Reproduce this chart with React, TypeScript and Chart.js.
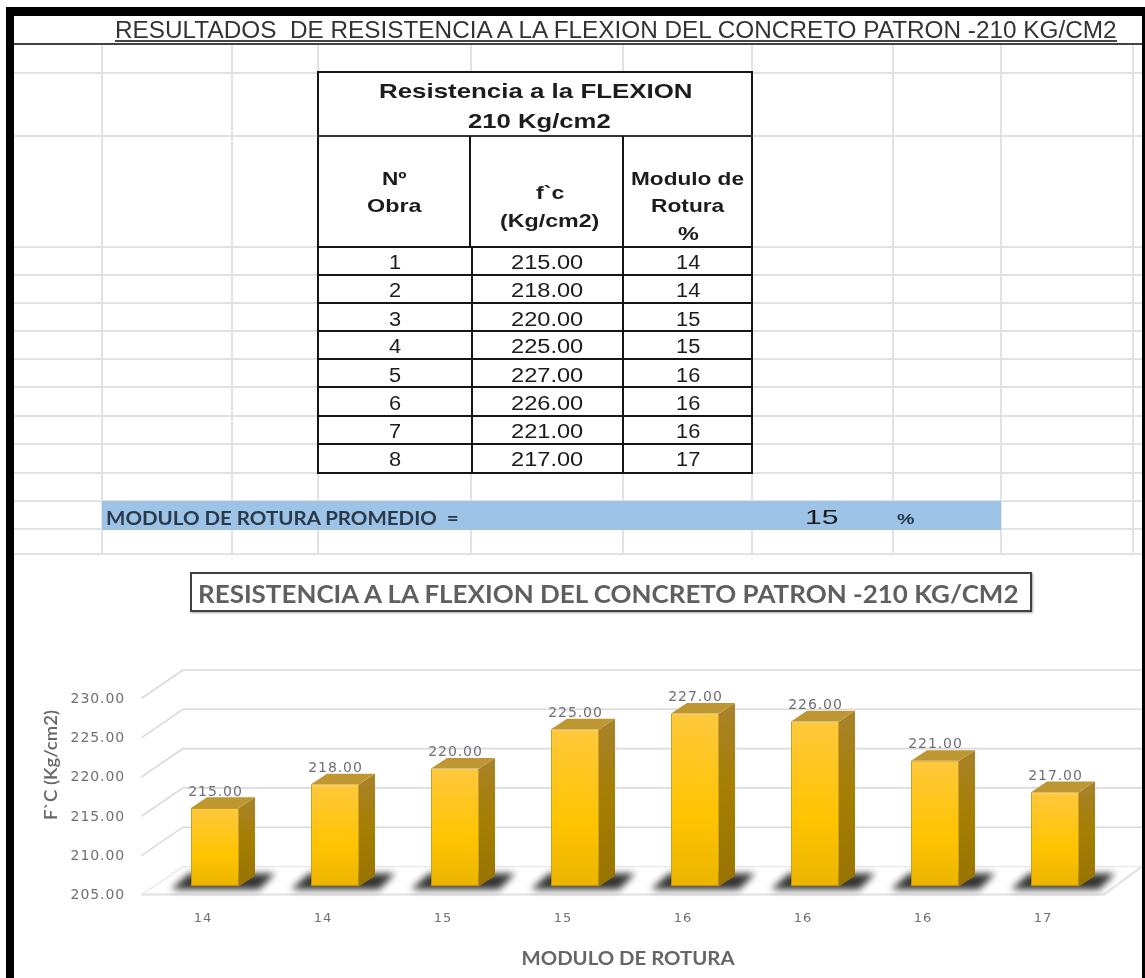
import React, { useEffect, useLayoutEffect, useRef } from "react";
import { Chart, registerables } from "chart.js";

Chart.register(...registerables);

const obraNumbers = [1, 2, 3, 4, 5, 6, 7, 8];
const fcValues = [215, 218, 220, 225, 227, 226, 221, 217];
const moduloValues = [14, 14, 15, 15, 16, 16, 16, 17];
const moduloPromedio = 15;
const yMin = 205;
const yMax = 230;
const yStep = 5;

const sheetTitle = "RESULTADOS  DE RESISTENCIA A LA FLEXION DEL CONCRETO PATRON -210 KG/CM2";
const chartTitle = "RESISTENCIA A LA FLEXION DEL CONCRETO PATRON -210 KG/CM2";
const xAxisTitle = "MODULO DE ROTURA";
const yAxisTitle = "F`C (Kg/cm2)";

const rowLines = [247, 275, 303, 331, 359, 387, 416, 444, 473];
const rowCenters = [262, 290, 319, 346, 375, 403, 431, 459];
const gridH = [73, 136, 247, 275, 303, 331, 359, 387, 416, 444, 473, 501, 529, 554];
const gridV = [102, 232, 318, 471, 623, 752, 893, 1001, 1133];

const ARIAL = '"Liberation Sans", Arial, sans-serif';
const LATO = "Lato, sans-serif";

function T(p: { text: string; y: number; w: number; x?: number; cx?: number; size: number; bold?: boolean; weight?: number; color?: string; font?: string }) {
  const ref = useRef<HTMLSpanElement>(null);
  useLayoutEffect(() => {
    const el = ref.current;
    if (!el) return;
    const k = p.w / el.offsetWidth;
    el.style.transform = `translateY(-50%) scaleX(${k})`;
  });
  const left = p.x !== undefined ? p.x : (p.cx as number) - p.w / 2;
  return (
    <span
      ref={ref}
      style={{
        position: "absolute",
        left,
        top: p.y,
        whiteSpace: "pre",
        transformOrigin: "left center",
        transform: "translateY(-50%)",
        fontFamily: p.font || ARIAL,
        fontSize: p.size,
        fontWeight: p.weight || (p.bold ? 700 : 400),
        color: p.color || "#1c1c1c",
        lineHeight: 1,
      }}
    >
      {p.text}
    </span>
  );
}

function Box(p: { x: number; y: number; w: number; h: number; c: string }) {
  return <div style={{ position: "absolute", left: p.x, top: p.y, width: p.w, height: p.h, background: p.c }} />;
}

function drawFit(ctx: any, text: string, cx: number, cy: number, w: number, rot: number, font: string, color: string) {
  ctx.save();
  ctx.letterSpacing = "0px";
  ctx.font = font;
  ctx.fillStyle = color;
  ctx.textAlign = "center";
  ctx.textBaseline = "middle";
  ctx.translate(cx, cy);
  ctx.rotate(rot);
  ctx.scale(w / ctx.measureText(text).width, 1);
  ctx.fillText(text, 0, 0);
  ctx.restore();
}

const solid3d = {
  id: "solid3d",
  beforeDraw(chart: any) {
    chart.ctx.letterSpacing = "0.9px";
  },
  beforeDatasetsDraw(chart: any) {
    const { ctx, scales, chartArea } = chart;
    const y = scales.y;
    const L = chartArea.left;
    const R = chartArea.right;
    ctx.save();
    ctx.lineCap = "round";
    // walls
    for (let v = yMin; v <= yMax; v += yStep) {
      const py = y.getPixelForValue(v);
      ctx.strokeStyle = v === yMin ? "#ececec" : "#dadada";
      ctx.lineWidth = 1.6;
      ctx.beginPath();
      ctx.moveTo(L - 13, py + 8);
      ctx.lineTo(L + 28, py - 20);
      ctx.lineTo(R + 28, py - 20);
      ctx.stroke();
    }
    // floor
    const f = y.getPixelForValue(yMin);
    ctx.strokeStyle = "#e6e6e6";
    ctx.lineWidth = 2.6;
    ctx.beginPath();
    ctx.moveTo(L - 13, f + 8);
    ctx.lineTo(R - 11, f + 8);
    ctx.lineTo(R + 27, f - 20);
    ctx.stroke();

    const bars = chart.getDatasetMeta(0).data;
    // shadows
    ctx.save();
    ctx.filter = "blur(3.5px)";
    ctx.fillStyle = "#333333";
    bars.forEach((b: any) => {
      const l = b.x - b.width / 2;
      const r = b.x + b.width / 2;
      ctx.beginPath();
      ctx.moveTo(l - 20, b.base + 3);
      ctx.lineTo(r + 20, b.base + 3);
      ctx.lineTo(r + 36, b.base - 13);
      ctx.lineTo(l - 2, b.base - 13);
      ctx.closePath();
      ctx.fill();
    });
    ctx.restore();

    // value labels (the top face overlaps their lower edge)
    ctx.font = '14px "DejaVu Sans"';
    ctx.fillStyle = "#6f6f78";
    ctx.textAlign = "center";
    ctx.textBaseline = "middle";
    bars.forEach((b: any, i: number) => {
      ctx.fillText(fcValues[i].toFixed(2), b.x + 0.5, b.y - 16);
    });

    // side and top faces
    const dx = 16;
    const dy = 10.6;
    bars.forEach((b: any) => {
      const l = b.x - b.width / 2;
      const r = b.x + b.width / 2;
      const g = ctx.createLinearGradient(0, b.y - dy, 0, b.base);
      g.addColorStop(0, "#A8822C");
      g.addColorStop(0.5, "#A67F00");
      g.addColorStop(1, "#967300");
      ctx.fillStyle = g;
      ctx.beginPath();
      ctx.moveTo(r, b.y);
      ctx.lineTo(r + dx, b.y - dy);
      ctx.lineTo(r + dx, b.base - dy);
      ctx.lineTo(r, b.base);
      ctx.closePath();
      ctx.fill();
      ctx.fillStyle = "#BE9632";
      ctx.beginPath();
      ctx.moveTo(l, b.y);
      ctx.lineTo(l + dx, b.y - dy);
      ctx.lineTo(r + dx, b.y - dy);
      ctx.lineTo(r, b.y);
      ctx.closePath();
      ctx.fill();
    });
    ctx.restore();
  },
  afterDraw(chart: any) {
    const { ctx } = chart;
    drawFit(ctx, yAxisTitle, 51, 765, 110, -Math.PI / 2, "600 18px Lato", "#666");
    drawFit(ctx, xAxisTitle, 628, 959, 213, 0, "700 18px Lato", "#666");
  },
};

function BarChart() {
  const ref = useRef<HTMLCanvasElement>(null);
  useEffect(() => {
    const chart = new Chart(ref.current as HTMLCanvasElement, {
      type: "bar",
      data: {
        labels: moduloValues.map(String),
        datasets: [
          {
            data: fcValues,
            base: yMin,
            barPercentage: 0.4,
            categoryPercentage: 1,
            borderWidth: 1,
            borderSkipped: false,
            borderColor: "rgba(196,150,10,0.9)",
            backgroundColor: (c: any) => {
              const { chart: ch, dataIndex } = c;
              if (!ch.chartArea || dataIndex === undefined) return "#FFC000";
              const yS = ch.scales.y;
              const g = ch.ctx.createLinearGradient(0, yS.getPixelForValue(fcValues[dataIndex]), 0, yS.getPixelForValue(yMin));
              g.addColorStop(0, "#FFC83C");
              g.addColorStop(0.6, "#FFC400");
              g.addColorStop(1, "#EAB400");
              return g;
            },
          },
        ],
      },
      options: {
        animation: false,
        responsive: false,
        layout: { padding: { top: 690, right: 30, left: 0, bottom: 0 } },
        plugins: { legend: { display: false }, title: { display: false }, tooltip: { enabled: false } },
        scales: {
          x: {
            grid: { display: false, drawTicks: false },
            border: { display: false },
            afterFit: (s: any) => {
              s.height = 91.5;
            },
            ticks: {
              autoSkip: false,
              maxRotation: 0,
              padding: 24,
              labelOffset: -12,
              color: "#6f6f78",
              font: { family: "DejaVu Sans", size: 13 },
            },
          },
          y: {
            min: yMin,
            max: yMax,
            grid: { display: false, drawTicks: false },
            border: { display: false },
            afterFit: (s: any) => {
              s.width = 155;
            },
            ticks: {
              stepSize: yStep,
              padding: 30,
              labelOffset: 9,
              color: "#6f6f78",
              font: { family: "DejaVu Sans", size: 14 },
              callback: (v: any) => Number(v).toFixed(2),
            },
          },
        },
      },
      plugins: [solid3d],
    } as any);
    return () => chart.destroy();
  }, []);
  return <canvas ref={ref} width={1145} height={978} style={{ position: "absolute", left: 0, top: 0, width: 1145, height: 978, display: "block" }} />;
}

export default function App() {
  useLayoutEffect(() => {
    document.body.style.margin = "0";
    document.documentElement.style.overflow = "hidden";
  }, []);
  const K = "#151515";
  return (
    <div style={{ position: "relative", width: 1145, height: 978, overflow: "hidden", background: "#fff", filter: "blur(0.45px)" }}>
      {gridH.map((y) => (
        <Box key={"h" + y} x={13} y={y - 1} w={1130} h={2} c="#e2e2e2" />
      ))}
      {gridV.map((x) => (
        <Box key={"v" + x} x={x - 1} y={44} w={2} h={510} c="#e2e2e2" />
      ))}

      <Box x={319} y={73} w={433} h={400} c="#fff" />
      <Box x={102} y={501} w={899} h={29} c="#9DC3E6" />

      <Box x={317} y={72} w={2} h={402} c={K} />
      <Box x={751} y={72} w={2} h={402} c={K} />
      <Box x={317} y={71} w={436} h={2} c={K} />
      <Box x={317} y={135} w={436} h={2} c="#333" />
      {rowLines.map((y) => (
        <Box key={"r" + y} x={317} y={y - 1} w={436} h={2} c={K} />
      ))}
      <Box x={469} y={136} w={2} h={111} c={K} />
      <Box x={471} y={247} w={2} h={226} c={K} />
      <Box x={622} y={136} w={2} h={337} c={K} />

      <BarChart />

      <T text={sheetTitle} x={115} w={1002} y={30} size={23} color="#333" />
      <Box x={115} y={40} w={1002} h={1.5} c="#444" />
      <Box x={13} y={43} w={1130} h={2} c="#444" />

      <T text="Resistencia a la FLEXION" x={379} w={313} y={90} size={21} bold />
      <T text="210 Kg/cm2" x={468} w={143} y={120} size={21} bold />
      <T text="Nº" x={382} w={25} y={178} size={19} bold />
      <T text="Obra" x={367} w={54} y={205} size={19} bold />
      <T text="f`c" x={536} w={28} y={192} size={19} bold />
      <T text="(Kg/cm2)" x={500} w={99} y={220} size={19} bold />
      <T text="Modulo de" x={631} w={113} y={178} size={19} bold />
      <T text="Rotura" x={651} w={73} y={205} size={19} bold />
      <T text="%" x={678} w={21} y={233} size={19} bold />

      {rowCenters.map((y, i) => (
        <React.Fragment key={i}>
          <T text={String(obraNumbers[i])} cx={395} w={12} y={y} size={20} />
          <T text={fcValues[i].toFixed(2)} cx={547} w={72} y={y} size={20} />
          <T text={String(moduloValues[i])} cx={688} w={24} y={y} size={20} />
        </React.Fragment>
      ))}

      <T text="MODULO DE ROTURA PROMEDIO  =" x={106} w={353} y={517} size={19} weight={700} color="#2b3a4a" font={LATO} />
      <T text={String(moduloPromedio)} x={805} w={33} y={516} size={21} />
      <T text="%" x={897} w={17} y={518} size={15} bold color="#26384d" />

      <div style={{ position: "absolute", left: 190, top: 572, width: 842, height: 40, boxSizing: "border-box", border: "2.5px solid #404040", boxShadow: "1px 1px 2px rgba(0,0,0,0.35)" }} />
      <T text={chartTitle} x={198} w={820} y={593} size={25} bold color="#5f5f5f" font={LATO} />

      <Box x={6} y={7} w={1139} h={8.5} c="#000" />
      <Box x={6} y={7} w={7.5} h={971} c="#000" />
      <Box x={1142} y={7} w={3} h={971} c="#000" />
    </div>
  );
}
